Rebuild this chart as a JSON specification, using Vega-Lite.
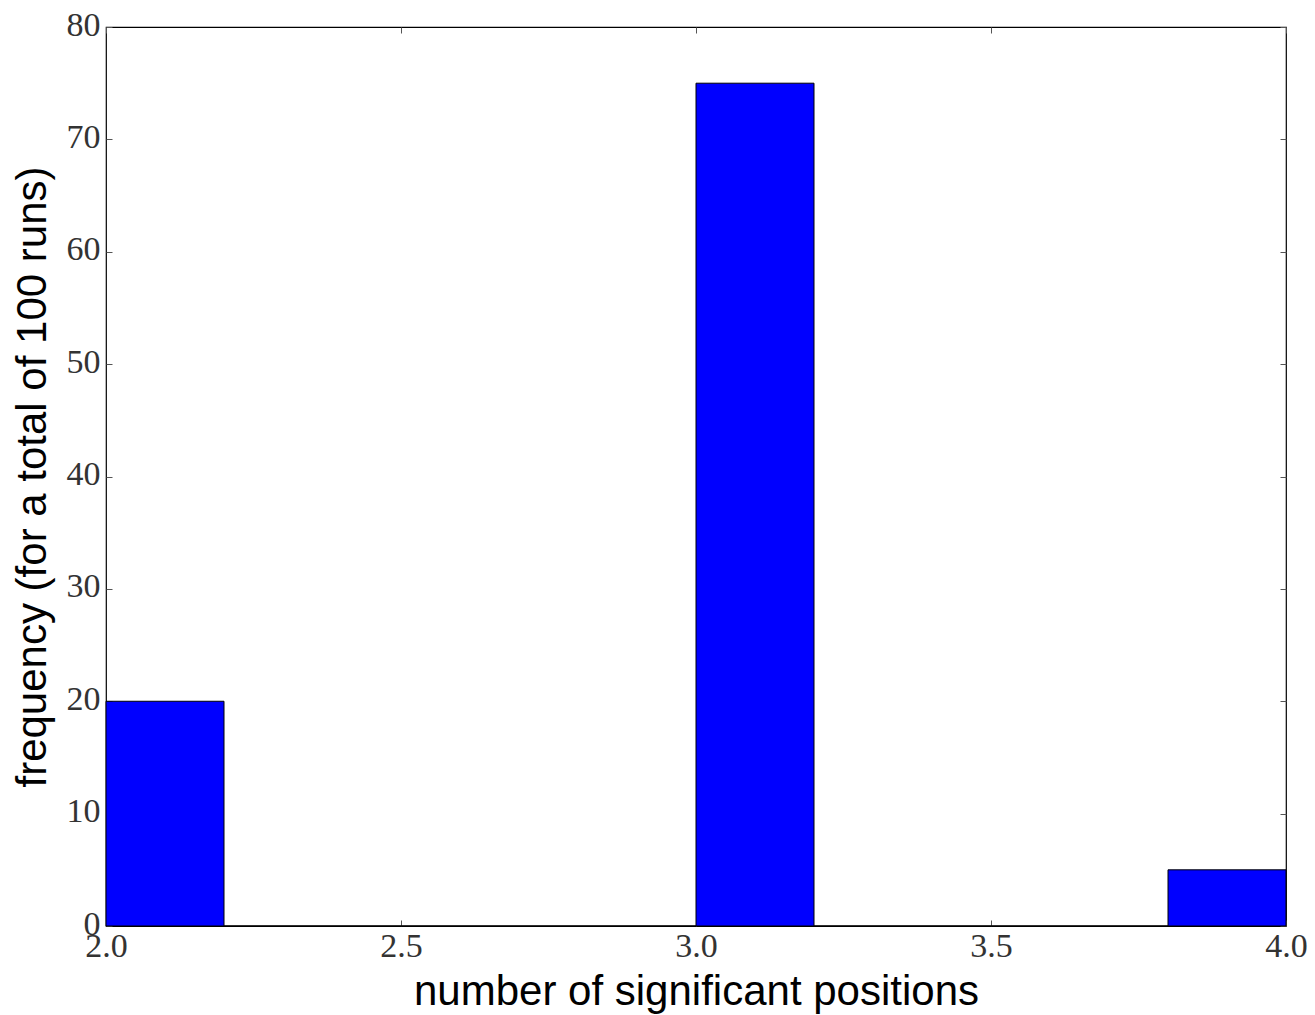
{
  "$schema": "https://vega.github.io/schema/vega-lite/v6.json",
  "width": 1180,
  "height": 899,
  "autosize": {"type": "none"},
  "padding": {"left": 106, "top": 27, "right": 29, "bottom": 89},
  "background": "white",
  "config": {
    "view": {"stroke": "black", "strokeWidth": 1.2},
    "axis": {
      "grid": false,
      "domain": false,
      "tickSize": -6,
      "tickColor": "#555",
      "tickWidth": 1,
      "labelFont": "Liberation Serif",
      "labelFontSize": 34,
      "labelColor": "#333",
      "titleFont": "Liberation Sans",
      "titleFontSize": 42,
      "titleFontWeight": "normal",
      "titleColor": "black"
    }
  },
  "data": {
    "values": [
      {"bin_start": 2.0, "bin_end": 2.2, "count": 20},
      {"bin_start": 2.2, "bin_end": 2.4, "count": 0},
      {"bin_start": 2.4, "bin_end": 2.6, "count": 0},
      {"bin_start": 2.6, "bin_end": 2.8, "count": 0},
      {"bin_start": 2.8, "bin_end": 3.0, "count": 0},
      {"bin_start": 3.0, "bin_end": 3.2, "count": 75},
      {"bin_start": 3.2, "bin_end": 3.4, "count": 0},
      {"bin_start": 3.4, "bin_end": 3.6, "count": 0},
      {"bin_start": 3.6, "bin_end": 3.8, "count": 0},
      {"bin_start": 3.8, "bin_end": 4.0, "count": 5}
    ]
  },
  "layer": [
    {
      "mark": {"type": "bar", "fill": "#0000ff", "stroke": "black", "strokeWidth": 1},
      "encoding": {
        "x": {
          "field": "bin_start",
          "type": "quantitative",
          "scale": {"domain": [2.0, 4.0], "nice": false, "zero": false},
          "axis": {
            "orient": "bottom",
            "values": [2.0, 2.5, 3.0, 3.5, 4.0],
            "format": ".1f",
            "labelPadding": 9,
            "labelFlush": false,
            "title": "number of significant positions",
            "titlePadding": 8
          }
        },
        "x2": {"field": "bin_end"},
        "y": {
          "field": "count",
          "type": "quantitative",
          "scale": {"domain": [0, 80], "nice": false},
          "axis": {
            "orient": "left",
            "values": [0, 10, 20, 30, 40, 50, 60, 70, 80],
            "labelPadding": 12,
            "labelOffset": -2,
            "labelFlush": false,
            "title": "frequency (for a total of 100 runs)",
            "titlePadding": 12
          }
        },
        "y2": {"datum": 0}
      }
    },
    {
      "mark": {"type": "bar", "opacity": 0},
      "encoding": {
        "x": {
          "field": "bin_start",
          "type": "quantitative",
          "scale": {"domain": [2.0, 4.0], "nice": false, "zero": false},
          "axis": {"orient": "top", "values": [2.0, 2.5, 3.0, 3.5, 4.0], "labels": false, "title": null}
        },
        "x2": {"field": "bin_end"},
        "y": {
          "field": "count",
          "type": "quantitative",
          "scale": {"domain": [0, 80], "nice": false},
          "axis": {"orient": "right", "values": [0, 10, 20, 30, 40, 50, 60, 70, 80], "labels": false, "title": null}
        },
        "y2": {"datum": 0}
      }
    }
  ],
  "resolve": {"axis": {"x": "independent", "y": "independent"}}
}
